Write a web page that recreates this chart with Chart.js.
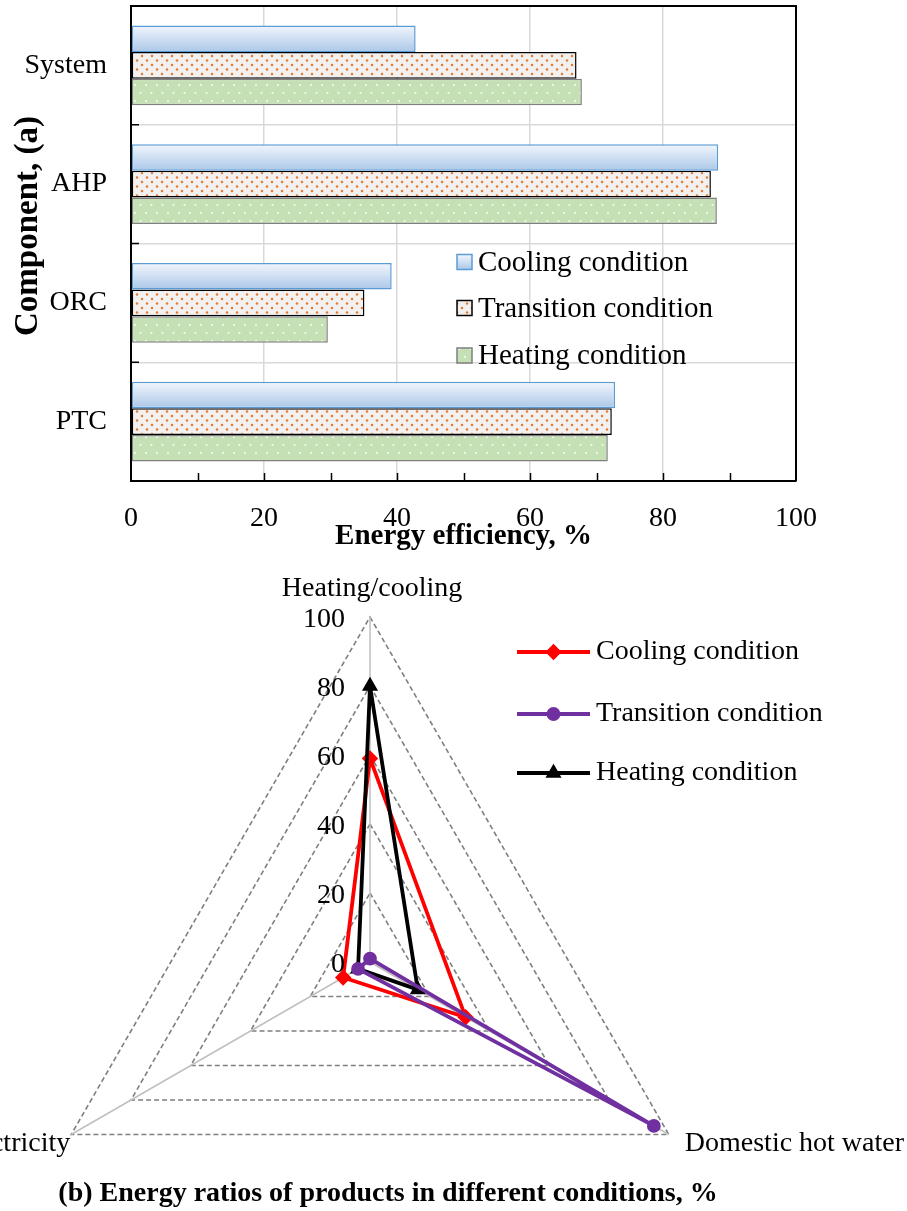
<!DOCTYPE html>
<html>
<head>
<meta charset="utf-8">
<script src="https://cdn.jsdelivr.net/npm/chart.js@4.4.0/dist/chart.umd.min.js"></script>
<style>
  html, body { margin: 0; padding: 0; background: #fff; }
  body { width: 907px; height: 1211px; overflow: hidden; position: relative; }
  #bars { position: absolute; left: 0; top: 0; }
  #radar { position: absolute; left: -100px; top: 560px; }
</style>
</head>
<body>
<canvas id="bars" width="907" height="560"></canvas>
<canvas id="radar" width="1007" height="751"></canvas>
<script>
// (a) energy efficiency of components, %
var components = ['System', 'AHP', 'ORC', 'PTC'];
var conditions = ['Cooling condition', 'Transition condition', 'Heating condition'];
var coolingEff = [42.8, 88.3, 39.2, 72.8];
var transitionEff = [67.0, 87.2, 35.1, 72.3];
var heatingEff = [67.8, 88.1, 29.6, 71.7];
var effTicks = [0, 20, 40, 60, 80, 100];

// (b) energy ratios of products, %
var products = ['Heating/cooling', 'Domestic hot water', 'Electricity'];
var coolingRatio = [59, 32, 9];
var transitionRatio = [1, 95, 4];
var heatingRatio = [80, 16, 4];
var ratioTicks = [0, 20, 40, 60, 80, 100];

var FONT = "'Liberation Serif', 'Times New Roman', serif";
Chart.defaults.font.family = FONT;
Chart.defaults.color = '#000';

var barCanvas = document.getElementById('bars');
var barCtx = barCanvas.getContext('2d');

function dotPattern(bg, dot, w, h, pts, r) {
  var c = document.createElement('canvas');
  c.width = w; c.height = h;
  var g = c.getContext('2d');
  g.fillStyle = bg;
  g.fillRect(0, 0, w, h);
  g.fillStyle = dot;
  pts.forEach(function(p) {
    g.beginPath();
    g.arc(p[0], p[1], r, 0, Math.PI * 2);
    g.fill();
  });
  return barCtx.createPattern(c, 'repeat');
}

var orangeDots = dotPattern('#f3f1ef', '#e57a35', 10, 9, [[2, 2], [7, 6.5]], 1.25);
var greenDots = dotPattern('#c5e0b4', 'rgba(255,255,255,0.85)', 11, 16, [[3, 5], [8.5, 13]], 1.1);

function blueGradient(ctx, top, bottom) {
  var g = ctx.createLinearGradient(0, top, 0, bottom);
  g.addColorStop(0, '#f2f6fc');
  g.addColorStop(1, '#abc7e8');
  return g;
}

// gradient fill per bar, frame, inward ticks, y title and the inner legend
var barDecor = {
  id: 'barDecor',
  beforeDatasetsDraw: function(chart) {
    var ctx = chart.ctx;
    chart.getDatasetMeta(0).data.forEach(function(el) {
      var g = blueGradient(ctx, el.y - el.height / 2, el.y + el.height / 2);
      el.options = Object.assign({}, el.options, { backgroundColor: g });
    });
  },
  afterDraw: function(chart) {
    var ctx = chart.ctx, a = chart.chartArea;
    var x = chart.scales.x, y = chart.scales.y;
    ctx.save();
    ctx.strokeStyle = '#000';
    ctx.lineWidth = 2;
    ctx.beginPath();
    ctx.moveTo(a.left, a.top);
    ctx.lineTo(a.right, a.top);
    ctx.lineTo(a.right, a.bottom);
    ctx.stroke();

    ctx.lineWidth = 1.5;
    ctx.beginPath();
    for (var v = 10; v < 100; v += 10) {
      var px = Math.round(x.getPixelForValue(v)) + 0.5;
      ctx.moveTo(px, a.bottom);
      ctx.lineTo(px, a.bottom - 8);
    }
    for (var i = 1; i < components.length; i++) {
      var py = (y.getPixelForValue(i - 1) + y.getPixelForValue(i)) / 2;
      ctx.moveTo(a.left, py);
      ctx.lineTo(a.left + 8, py);
    }
    ctx.stroke();

    // y axis title
    ctx.save();
    ctx.translate(28, 226);
    ctx.rotate(-Math.PI / 2);
    ctx.font = 'bold 33px ' + FONT;
    ctx.fillStyle = '#000';
    ctx.textAlign = 'center';
    ctx.textBaseline = 'middle';
    ctx.fillText('Component, (a)', 0, 0);
    ctx.restore();

    var rows = [262, 308, 355.5];
    var fills = [null, orangeDots, greenDots];
    ctx.font = '29px ' + FONT;
    ctx.textBaseline = 'middle';
    ctx.textAlign = 'left';
    chart.data.datasets.forEach(function(ds, k) {
      var bx = 457, by = rows[k] - 7.5;
      ctx.fillStyle = fills[k] || blueGradient(ctx, by, by + 15);
      ctx.fillRect(bx, by, 15, 15);
      ctx.strokeStyle = ds.borderColor;
      ctx.lineWidth = 1.5;
      ctx.strokeRect(bx, by, 15, 15);
      ctx.fillStyle = '#000';
      ctx.fillText(ds.label, 478, rows[k] + 1);
    });
    ctx.restore();
  }
};

new Chart(barCtx, {
  type: 'bar',
  data: {
    labels: components,
    datasets: [
      { label: conditions[0], data: coolingEff, backgroundColor: '#c9dbf0', borderColor: '#5b9bd5',
        borderWidth: 1.5, borderSkipped: false, categoryPercentage: 0.67, barPercentage: 1 },
      { label: conditions[1], data: transitionEff, backgroundColor: orangeDots, borderColor: '#000',
        borderWidth: 1.5, borderSkipped: false, categoryPercentage: 0.67, barPercentage: 1 },
      { label: conditions[2], data: heatingEff, backgroundColor: greenDots, borderColor: '#7f7f7f',
        borderWidth: 1.5, borderSkipped: false, categoryPercentage: 0.67, barPercentage: 1 }
    ]
  },
  options: {
    indexAxis: 'y',
    responsive: false,
    animation: false,
    layout: { padding: { top: 6, right: 111, left: 0, bottom: 0 } },
    plugins: { legend: { display: false }, tooltip: { enabled: false } },
    scales: {
      x: {
        min: 0, max: 100,
        ticks: {
          stepSize: 10, padding: 21, font: { size: 28 },
          callback: function(v) { return effTicks.indexOf(v) >= 0 ? v : ''; }
        },
        grid: {
          drawTicks: false, lineWidth: 1.5,
          color: function(c) { return c.tick && c.tick.value % 20 === 0 ? '#d9d9d9' : 'rgba(0,0,0,0)'; }
        },
        border: { color: '#000', width: 2 },
        title: { display: true, text: 'Energy efficiency, %', font: { size: 29, weight: 'bold' }, padding: { top: 0, bottom: 6 } },
        afterFit: function(s) { s.height = 79; }
      },
      y: {
        ticks: { padding: 24, font: { size: 28 } },
        grid: { offset: true, drawTicks: false, color: '#d9d9d9', lineWidth: 1.5 },
        border: { color: '#000', width: 2 },
        afterFit: function(s) { s.width = 131; s.paddingTop = 0; s.paddingBottom = 0; }
      }
    }
  },
  plugins: [barDecor]
});

// radar: tick labels, point labels, legend and caption
var radarDecor = {
  id: 'radarDecor',
  afterDraw: function(chart) {
    var ctx = chart.ctx, r = chart.scales.r;
    ctx.save();
    ctx.fillStyle = '#000';
    ctx.font = '28px ' + FONT;
    ctx.textBaseline = 'middle';

    ctx.textAlign = 'right';
    ratioTicks.forEach(function(v) {
      var p = r.getPointPositionForValue(0, v);
      ctx.fillText(String(v), p.x - 25, p.y + 3);
    });

    var top = r.getPointPositionForValue(0, 100);
    ctx.textAlign = 'center';
    ctx.fillText(products[0], top.x + 2, top.y - 28);
    var right = r.getPointPositionForValue(1, 100);
    ctx.textAlign = 'left';
    ctx.fillText(products[1], right.x + 16, right.y + 9);
    var left = r.getPointPositionForValue(2, 100);
    ctx.textAlign = 'right';
    ctx.fillText(products[2], left.x - 1, left.y + 9);

    var rows = [92, 154, 213];
    chart.data.datasets.forEach(function(ds, k) {
      ctx.strokeStyle = ds.borderColor;
      ctx.fillStyle = ds.borderColor;
      ctx.lineWidth = 3.8;
      ctx.beginPath();
      ctx.moveTo(617, rows[k]);
      ctx.lineTo(690, rows[k]);
      ctx.stroke();
      Chart.helpers.drawPoint(ctx, { pointStyle: ds.pointStyle, radius: ds.pointRadius, rotation: 0, borderWidth: 1 }, 653.5, rows[k]);
      ctx.fillStyle = '#000';
      ctx.textAlign = 'left';
      ctx.fillText(ds.label, 696, rows[k]);
    });

    ctx.font = 'bold 28px ' + FONT;
    ctx.textAlign = 'center';
    ctx.fillText('(b) Energy ratios of products in different conditions, %', 488, 634);
    ctx.restore();
  }
};

new Chart(document.getElementById('radar'), {
  type: 'radar',
  data: {
    labels: products,
    datasets: [
      { label: conditions[0], data: coolingRatio, borderColor: '#ff0000', backgroundColor: '#ff0000',
        pointStyle: 'rectRot', pointRadius: 5.5, borderWidth: 3.8, fill: false, order: 3 },
      { label: conditions[1], data: transitionRatio, borderColor: '#7030a0', backgroundColor: '#7030a0',
        pointStyle: 'circle', pointRadius: 5, borderWidth: 3.8, fill: false, order: 1 },
      { label: conditions[2], data: heatingRatio, borderColor: '#000000', backgroundColor: '#000000',
        pointStyle: 'triangle', pointRadius: 5.5, borderWidth: 3.8, fill: false, order: 2 }
    ]
  },
  options: {
    responsive: false,
    animation: false,
    layout: { padding: { left: 125, right: 192, top: 57, bottom: 4 } },
    elements: { line: { tension: 0 } },
    plugins: { legend: { display: false }, tooltip: { enabled: false } },
    scales: {
      r: {
        min: 0, max: 100,
        ticks: { stepSize: 20, display: false },
        pointLabels: { display: false },
        grid: { color: '#7f7f7f', lineWidth: 1.6 },
        border: { dash: [5, 3] },
        angleLines: { color: '#bfbfbf', lineWidth: 1.5 }
      }
    }
  },
  plugins: [radarDecor]
});
</script>
</body>
</html>
